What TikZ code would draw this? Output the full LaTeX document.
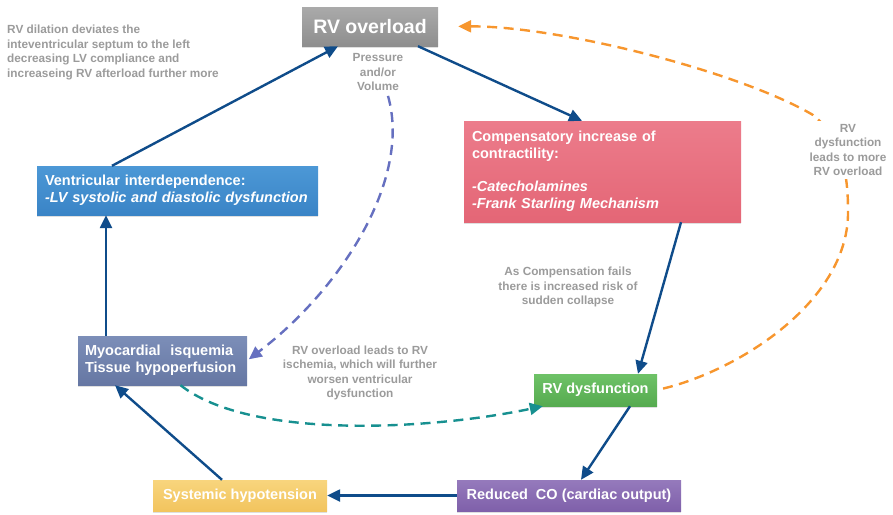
\documentclass[tikz,border=0pt]{standalone}
\usepackage{fontspec}
\setmainfont{Liberation Sans}
\usetikzlibrary{arrows.meta,shadows,calc}

\definecolor{arrowblue}{HTML}{0F4C8A}
\definecolor{labelgray}{HTML}{9B9B9B}
\definecolor{dashpurple}{HTML}{6670C0}
\definecolor{dashteal}{HTML}{179090}
\definecolor{dashorange}{HTML}{F7962E}
\definecolor{grayA}{HTML}{AAAAAA}\definecolor{grayB}{HTML}{8E8E8E}
\definecolor{pinkA}{HTML}{EC7C8B}\definecolor{pinkB}{HTML}{E46676}
\definecolor{blueA}{HTML}{4C98D6}\definecolor{blueB}{HTML}{3A84C6}
\definecolor{slateA}{HTML}{7C8EB8}\definecolor{slateB}{HTML}{6677A3}
\definecolor{greenA}{HTML}{6EC267}\definecolor{greenB}{HTML}{56AB50}
\definecolor{purpA}{HTML}{957ABC}\definecolor{purpB}{HTML}{7F60AA}
\definecolor{yellA}{HTML}{F8D57D}\definecolor{yellB}{HTML}{F2C45E}

\tikzset{
  box/.style={inner sep=0pt, font=\fontsize{14.5}{17}\selectfont\bfseries, text=white,
    drop shadow={shadow xshift=0pt, shadow yshift=-1.5pt, opacity=0.25}},
  leftbox/.style={box, inner xsep=8pt, align=left},
  grad/.style 2 args={top color=#1, bottom color=#2},
  note/.style={text=labelgray, font=\fontsize{11.8}{14.6}\selectfont\bfseries, align=center, inner sep=1pt},
  flow/.style={draw=arrowblue, line width=2.4pt, -{Triangle[length=13pt,width=12pt]}},
  loop/.style={line width=2.4pt, dash pattern=on 10pt off 6.5pt, -{Triangle[length=13pt,width=12pt]}},
}

\begin{document}
\begin{tikzpicture}[x=1pt,y=-1pt]
\useasboundingbox (0,0) rectangle (893,514);

% boxes of the cycle
\node[box, grad={grayA}{grayB}, minimum width=136pt, minimum height=39pt,
      font=\fontsize{19.5}{23}\selectfont\bfseries] (over) at (370,26.5) {RV overload};
\node[leftbox, grad={pinkA}{pinkB}, text width=261pt, minimum height=101pt] (comp) at (602.5,171.5)
  {Compensatory increase of\\contractility:\\[16pt]\textit{-Catecholamines}\\\textit{-Frank Starling Mechanism}};
\node[leftbox, grad={blueA}{blueB}, text width=265pt, minimum height=49pt] (vent) at (177.5,190.5)
  {Ventricular interdependence:\\\textit{-LV systolic and diastolic dysfunction}};
\node[leftbox, grad={slateA}{slateB}, text width=155pt, minimum height=49pt, inner xsep=7pt] (myo) at (162.5,360.5)
  {Myocardial\ \ isquemia\\Tissue hypoperfusion};
\node[box, grad={greenA}{greenB}, minimum width=123pt, minimum height=32pt] (dys) at (595.5,390)
  {RV dysfunction};
\node[box, grad={purpA}{purpB}, minimum width=224pt, minimum height=31pt] (co) at (569,495.5)
  {Reduced\ \ CO (cardiac output)};
\node[box, grad={yellA}{yellB}, minimum width=174pt, minimum height=31pt] (hypo) at (240,495.5)
  {Systemic hypotension};

% side notes
\node[note, anchor=north west, align=left] (dil) at (6,24)
  {RV dilation deviates the\\inteventricular septum to the left\\decreasing LV compliance and\\increaseing RV afterload further more};
\node[note] (pv) at (378,72) {Pressure\\and/or\\Volume};
\node[note] (fail) at (568,287) {As Compensation fails\\there is increased risk of\\sudden collapse};
\node[note] (isch) at (360,373) {RV overload leads to RV\\ischemia, which will further\\worsen ventricular\\dysfunction};

% main cycle
\draw[flow] ([xshift=-65.5pt]vent.north) -- ([xshift=-32pt]over.south);
\draw[flow] ([xshift=48pt]over.south) -- ([xshift=-20.5pt]comp.north);
\draw[flow] ([xshift=78.5pt]comp.south) -- ([xshift=42.5pt]dys.north);
\draw[flow] ([xshift=34.5pt]dys.south) -- ([xshift=12pt]co.north);
\draw[flow] (co.west) -- (hypo.east);
\draw[flow] ([xshift=-18pt]hypo.north) -- ([xshift=-47.5pt]myo.south);
\draw[flow] ([xshift=-56.5pt]myo.north) -- ([xshift=-56.5pt]myo.north |- vent.south);

% feedback loops
\draw[loop, draw=dashpurple, shorten >=2pt]
  ([xshift=10pt,yshift=-4pt]pv.south) .. controls (412,180) and (340,290) .. (myo.east);
\draw[loop, draw=dashteal]
  ([xshift=18pt]myo.south) .. controls (250,440) and (430,430) .. ([xshift=9pt]dys.south west);
\coordinate (o1) at (848,210);
\coordinate (o2) at (813,115);
\draw[loop, draw=dashorange, shorten <=6pt, shorten >=20pt]
  (dys.east) .. controls (740,370) and (850,300) .. (o1)
  .. controls (848,165) and (838,135) .. (o2)
  .. controls (740,72) and (560,26) .. (over.east);
\node[note, fill=white, inner sep=3pt] (more) at (848,150) {RV\\dysfunction\\leads to more\\RV overload};
\end{tikzpicture}
\end{document}
